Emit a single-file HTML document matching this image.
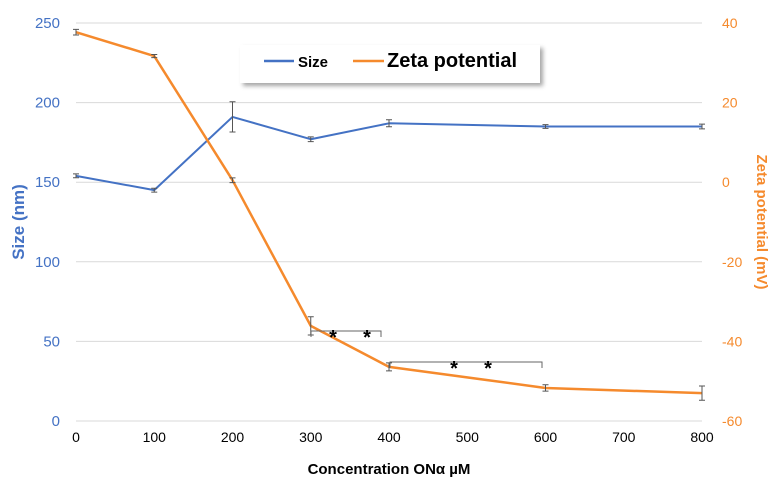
<!DOCTYPE html>
<html><head><meta charset="utf-8"><style>
body{margin:0;background:#fff;font-family:"Liberation Sans",sans-serif}
</style></head><body>
<svg id="c" width="779" height="488" xmlns="http://www.w3.org/2000/svg">
<defs><filter id="sh" x="-10%" y="-30%" width="130%" height="180%"><feDropShadow dx="3" dy="3" stdDeviation="2" flood-color="#000" flood-opacity="0.35"/></filter></defs>
<g id="grid"></g><g id="marks"></g>
<g id="ann"></g>
<g>
<rect x="240" y="45" width="300" height="38" fill="#fff" filter="url(#sh)"/>
<line x1="264" y1="61" x2="294" y2="61" stroke="#4472C4" stroke-width="2.5"/>
<text x="298" y="67" font-size="15" font-weight="bold">Size</text>
<line x1="353" y1="61" x2="384" y2="61" stroke="#F58A2D" stroke-width="2.5"/>
<text x="387" y="67" font-size="20" font-weight="bold">Zeta potential</text>
</g>
<text transform="translate(24,222) rotate(-90)" text-anchor="middle" font-size="17" font-weight="bold" fill="#4472C4">Size (nm)</text>
<text transform="translate(757,222) rotate(90)" text-anchor="middle" font-size="15" font-weight="bold" fill="#F58A2D">Zeta potential (mV)</text>
<text x="389" y="474" text-anchor="middle" font-size="15" font-weight="bold">Concentration ONα µM</text>
</svg>
<script>
const xCats=[0,100,200,300,400,600,800];
const sizeVals=[154,145,191,177,187,185,185];
const sizeErr=[1.2,1.2,9.5,1.5,2.2,1.2,1.5];
const zetaVals=[37.7,31.7,0.5,-36.1,-46.4,-51.7,-53];
const zetaErr=[0.7,0.4,0.6,2.3,1,0.8,1.8];
const xTicks=[0,100,200,300,400,500,600,700,800];
const yLeftTicks=[0,50,100,150,200,250];
const yRightTicks=[-60,-40,-20,0,20,40];
const NS="http://www.w3.org/2000/svg";
const X=v=>76+v*(702-76)/800;
const YL=v=>421-v*(421-23)/250;
const YR=v=>421-(v+60)*(421-23)/100;
function mk(t,a,p){const e=document.createElementNS(NS,t);for(const k in a)e.setAttribute(k,a[k]);(p||document.getElementById('marks')).appendChild(e);return e;}
const g=document.getElementById('grid');
yLeftTicks.forEach(v=>{
 const l=mk('line',{x1:76,x2:702,y1:YL(v),y2:YL(v),stroke:'#d9d9d9','stroke-width':1},g);
 
 
 const t=mk('text',{x:60,y:YL(v)+5,'text-anchor':'end','font-size':15,fill:'#4472C4'},g);t.textContent=v;
 
 
});
yRightTicks.forEach(v=>{
 const t=mk('text',{x:722,y:YR(v)+5,'font-size':14,fill:'#F58A2D'},g);t.textContent=v;
 
 
});
xTicks.forEach(v=>{
 const t=mk('text',{x:X(v),y:442,'text-anchor':'middle','font-size':14},g);t.textContent=v;
 
 
});
function series(vals,err,Y,col,w,name){
 const p=mk('polyline',{points:vals.map((v,i)=>X(xCats[i])+','+Y(v)).join(' '),fill:'none',stroke:col,'stroke-width':w,'stroke-linejoin':'round'});
 
 
 vals.forEach((v,i)=>{
  const x=X(xCats[i]),a=Y(v+err[i]),b=Y(v-err[i]);
  const e=mk('path',{d:`M${x},${a}V${b}M${x-3},${a}H${x+3}M${x-3},${b}H${x+3}`,stroke:'#555','stroke-width':1,fill:'none'});
  
  
 });
}
series(sizeVals,sizeErr,YL,'#4472C4',2,'size');
series(zetaVals,zetaErr,YR,'#F58A2D',2.5,'zeta');
const an=document.getElementById('ann');
[[311,381,331,333,367],[390,542,362,454,488]].forEach(b=>{
 const br=mk('path',{d:`M${b[0]},${b[2]+6}V${b[2]}H${b[1]}V${b[2]+6}`,stroke:'#666','stroke-width':1,fill:'none'},an);
 
 
 [b[3],b[4]].forEach(x=>{const s=mk('text',{x:x,y:b[2]+13,'text-anchor':'middle','font-size':20,'font-weight':'bold'},an);s.textContent='*';
  
  });
});
</script>
</body></html>
